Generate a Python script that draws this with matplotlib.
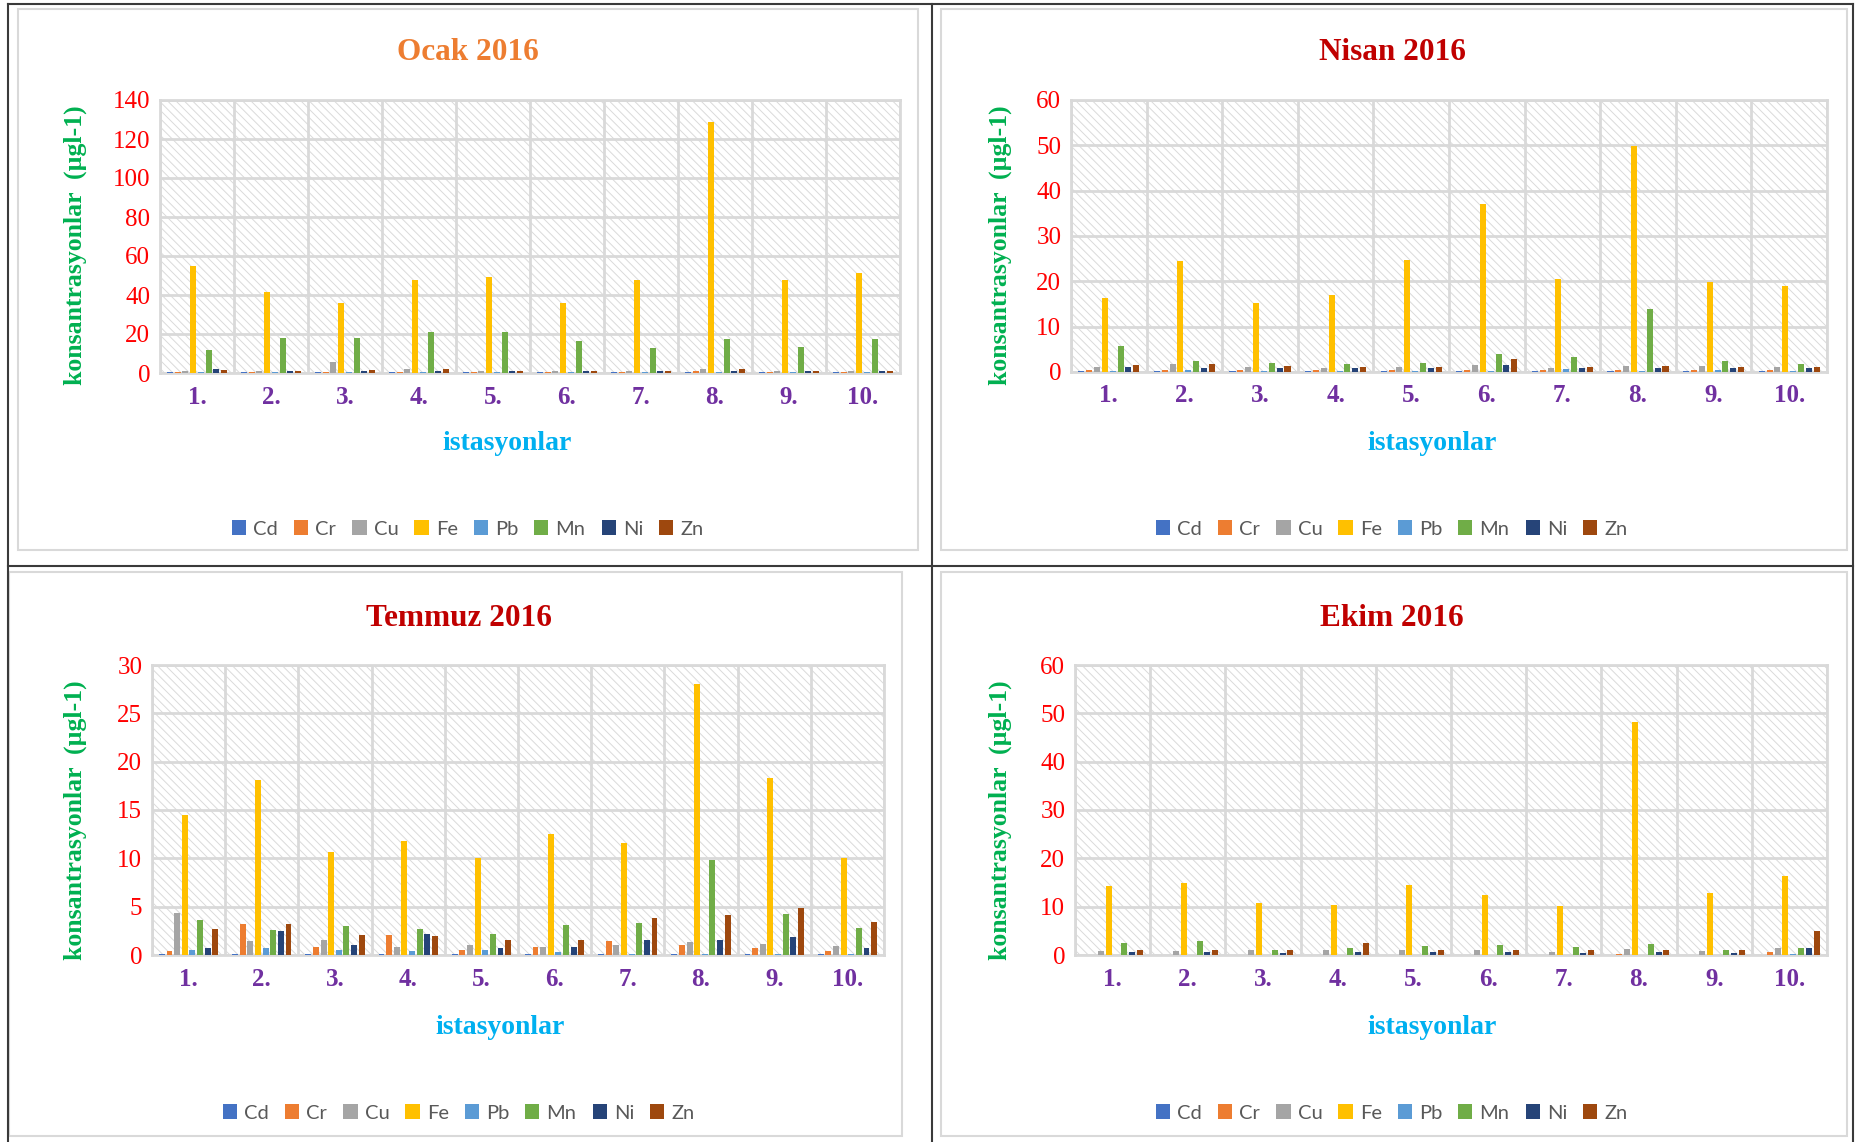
import matplotlib
matplotlib.use("Agg")
import matplotlib.pyplot as plt
from matplotlib.patches import Rectangle
from matplotlib.lines import Line2D
import numpy as np

W, H = 1856, 1142

metals = ["Cd", "Cr", "Cu", "Fe", "Pb", "Mn", "Ni", "Zn"]
metal_colors = ["#4472C4", "#ED7D31", "#A5A5A5", "#FFC000",
                "#5B9BD5", "#70AD47", "#264478", "#9E480E"]
stations = ["1.", "2.", "3.", "4.", "5.", "6.", "7.", "8.", "9.", "10."]

# Ocak 2016 (rows: stations 1..10, cols: Cd Cr Cu Fe Pb Mn Ni Zn)
ocak = [
    [0.3, 0.3, 1.2, 55.0, 0.3, 12.0, 2.2, 1.7],
    [0.3, 0.3, 1.0, 41.7, 0.3, 18.0, 1.0, 1.0],
    [0.3, 0.3, 5.8, 36.0, 0.3, 18.0, 1.0, 1.3],
    [0.3, 0.3, 2.2, 47.8, 0.3, 21.2, 1.0, 2.2],
    [0.3, 0.3, 1.2, 49.2, 0.3, 21.2, 1.0, 1.0],
    [0.3, 0.3, 1.2, 36.0, 0.3, 16.6, 1.0, 1.0],
    [0.3, 0.3, 1.2, 47.8, 0.3, 13.0, 1.0, 1.0],
    [0.3, 0.8, 1.8, 128.7, 0.3, 17.6, 1.0, 2.2],
    [0.3, 0.3, 1.2, 47.8, 0.3, 13.5, 1.0, 1.0],
    [0.3, 0.6, 1.2, 51.4, 0.3, 17.6, 1.0, 1.0],
]

# Nisan 2016
nisan = [
    [0.2, 0.4, 1.0, 16.3, 0.2, 5.7, 1.0, 1.5],
    [0.2, 0.4, 1.7, 24.4, 0.4, 2.4, 0.8, 1.7],
    [0.2, 0.4, 1.0, 15.2, 0.2, 1.9, 0.8, 1.25],
    [0.2, 0.4, 0.8, 16.9, 0.2, 1.7, 0.8, 1.0],
    [0.2, 0.4, 1.0, 24.7, 0.3, 1.9, 0.8, 1.0],
    [0.2, 0.4, 1.5, 37.0, 0.2, 3.9, 1.5, 2.8],
    [0.2, 0.4, 0.8, 20.5, 0.6, 3.2, 0.8, 1.0],
    [0.2, 0.4, 1.25, 49.8, 0.2, 13.8, 0.8, 1.25],
    [0.2, 0.4, 1.25, 19.8, 0.4, 2.4, 0.8, 1.0],
    [0.2, 0.4, 1.0, 18.9, 0.2, 1.7, 0.8, 1.0],
]

# Temmuz 2016
temmuz = [
    [0.1, 0.4, 4.35, 14.5, 0.5, 3.6, 0.7, 2.7],
    [0.1, 3.2, 1.45, 18.1, 0.7, 2.6, 2.5, 3.2],
    [0.1, 0.8, 1.55, 10.65, 0.5, 3.0, 1.0, 2.07],
    [0.1, 2.07, 0.8, 11.8, 0.4, 2.7, 2.2, 1.97],
    [0.1, 0.5, 1.0, 10.0, 0.5, 2.2, 0.7, 1.55],
    [0.1, 0.8, 0.8, 12.5, 0.3, 3.1, 0.8, 1.55],
    [0.1, 1.45, 1.0, 11.6, 0.1, 3.3, 1.55, 3.8],
    [0.1, 1.0, 1.35, 28.0, 0.1, 9.8, 1.55, 4.1],
    [0.1, 0.7, 1.1, 18.3, 0.1, 4.2, 1.85, 4.85],
    [0.1, 0.4, 0.9, 10.0, 0.1, 2.8, 0.7, 3.4],
]

# Ekim 2016
ekim = [
    [0.1, 0.1, 0.8, 14.3, 0.1, 2.5, 0.6, 1.0],
    [0.1, 0.1, 0.8, 14.9, 0.1, 2.9, 0.6, 1.0],
    [0.1, 0.1, 1.0, 10.7, 0.1, 1.0, 0.4, 1.0],
    [0.1, 0.1, 1.0, 10.3, 0.1, 1.45, 0.6, 2.5],
    [0.1, 0.1, 1.0, 14.5, 0.1, 1.9, 0.6, 1.0],
    [0.1, 0.1, 1.0, 12.4, 0.1, 2.1, 0.6, 1.0],
    [0.1, 0.1, 0.6, 10.1, 0.1, 1.65, 0.4, 1.0],
    [0.1, 0.3, 1.25, 48.2, 0.1, 2.3, 0.6, 1.0],
    [0.1, 0.1, 0.8, 12.8, 0.1, 1.0, 0.4, 1.0],
    [0.1, 0.6, 1.45, 16.3, 0.2, 1.45, 1.45, 5.0],
]

titles = ["Ocak 2016", "Nisan 2016", "Temmuz 2016", "Ekim 2016"]
title_colors = ["#ED7D31", "#C00000", "#C00000", "#C00000"]
y_max = [140, 60, 30, 60]
y_step = [20, 10, 5, 10]

plt.rcParams["hatch.linewidth"] = 0.7
fig = plt.figure(figsize=(W / 100, H / 100), dpi=100)
serif = "Liberation Serif"


def frac_rect(l, t, r, b):
    return [l / W, 1 - b / H, (r - l) / W, (b - t) / H]


def fig_box(l, t, r, b, color, lw):
    fig.patches.append(Rectangle((l / W, 1 - b / H), (r - l) / W, (b - t) / H,
                                 transform=fig.transFigure, fill=False,
                                 edgecolor=color, linewidth=lw, zorder=0))


# panel layout: plot area, chart box, title/label/legend centres (pixels)
panels = [
    dict(plot=(160, 100, 900, 373), box=(18, 9, 918, 550), cx=468, ty=53,
         ylx=75, yly=245, xly=444, xlx=507, legy=529),
    dict(plot=(1071, 100, 1827, 372), box=(941, 9, 1847, 550), cx=1392, ty=53,
         ylx=1000, yly=245, xly=444, xlx=1432, legy=529),
    dict(plot=(152, 665, 884, 955), box=(9, 572, 902, 1136), cx=459, ty=618,
         ylx=75, yly=820, xly=1027, xlx=500, legy=1113),
    dict(plot=(1075, 665, 1827, 955), box=(941, 572, 1847, 1136), cx=1392, ty=618,
         ylx=1000, yly=820, xly=1027, xlx=1432, legy=1113),
]

datasets = [ocak, nisan, temmuz, ekim]
x = np.arange(len(stations))
pitch = 0.104
bar_w = 0.08

for i, p in enumerate(panels):
    ax = fig.add_axes(frac_rect(*p["plot"]))
    vals = np.array(datasets[i])
    handles = []
    for j, m in enumerate(metals):
        off = (j - 3.5) * pitch
        b = ax.bar(x + off, vals[:, j], width=bar_w, color=metal_colors[j],
                   label=m, zorder=3)
        handles.append(b)
    ax.set_xlim(-0.5, len(stations) - 0.5)
    ax.set_ylim(0, y_max[i])
    ax.set_yticks(np.arange(0, y_max[i] + 1, y_step[i]))
    ax.set_xticks(x)
    ax.set_xticklabels(stations)
    ax.set_xticks(np.arange(-0.5, len(stations), 1), minor=True)
    ax.tick_params(axis="both", which="both", length=0)
    ax.tick_params(axis="y", pad=7)
    ax.tick_params(axis="x", pad=9)
    for t in ax.get_yticklabels():
        t.set_fontfamily(serif)
        t.set_fontsize(18)
        t.set_color("#FF0000")
    for t in ax.get_xticklabels():
        t.set_fontfamily(serif)
        t.set_fontsize(18)
        t.set_fontweight("bold")
        t.set_color("#7030A0")
    # hatched plot area
    ax.add_patch(Rectangle((0, 0), 1, 1, transform=ax.transAxes,
                           facecolor="white", edgecolor="#DADADA",
                           hatch="\\\\\\\\", linewidth=0, zorder=0))
    ax.grid(True, axis="y", which="major", color="#D9D9D9", linewidth=2, zorder=1)
    ax.grid(True, axis="x", which="minor", color="#D9D9D9", linewidth=2, zorder=1)
    ax.set_axisbelow(True)
    for s in ax.spines.values():
        s.set_color("#D9D9D9")
        s.set_linewidth(2)

    fig_box(*p["box"], "#D9D9D9", 1.5)
    fig.text(p["cx"] / W, 1 - p["ty"] / H, titles[i], ha="center", va="center",
             fontfamily=serif, fontsize=22.5, fontweight="bold", color=title_colors[i])
    fig.text(p["ylx"] / W, 1 - p["yly"] / H, "konsantrasyonlar  (µgl-1)",
             rotation=90, ha="center", va="center", fontfamily=serif,
             fontsize=18.5, fontweight="bold", color="#00B050")
    fig.text(p["xlx"] / W, 1 - p["xly"] / H, "istasyonlar", ha="center",
             va="center", fontfamily=serif, fontsize=20, fontweight="bold",
             color="#00B0F0")
    leg = ax.legend(handles=handles, loc="center", ncol=8,
                    bbox_to_anchor=(p["cx"] / W, 1 - p["legy"] / H),
                    bbox_transform=fig.transFigure, frameon=False,
                    prop={"family": "Lato", "size": 14.5},
                    handlelength=0.7, handleheight=0.7, handletextpad=0.35,
                    columnspacing=0.8, labelcolor="#595959")

# black dividing frame
for (x0, y0, x1, y1) in [(8, 4, 1853, 4), (8, 4, 8, 1142), (932, 4, 932, 1142),
                         (8, 566, 1853, 566), (1853, 4, 1853, 1142)]:
    fig.add_artist(Line2D([x0 / W, x1 / W], [1 - y0 / H, 1 - y1 / H],
                          transform=fig.transFigure, color="#3A3A3A", linewidth=1.5))

fig.savefig("out.png", dpi=100)
